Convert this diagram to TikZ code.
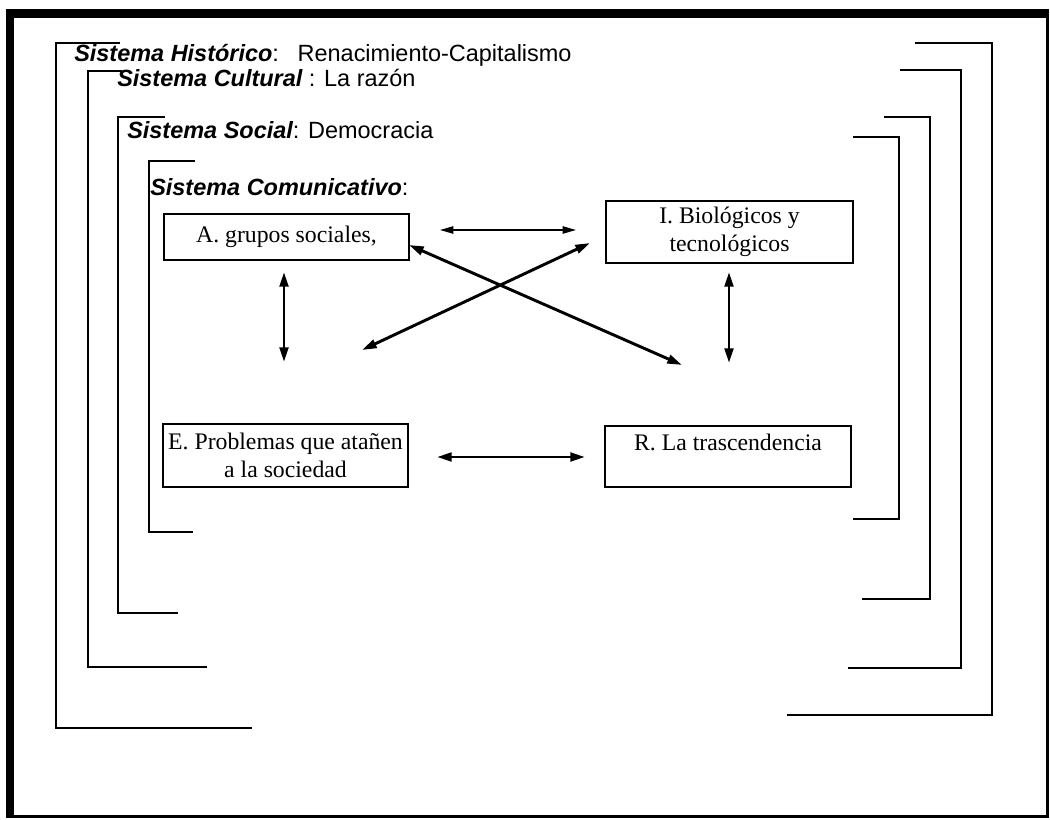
\documentclass[tikz,border=0pt]{standalone}
\usepackage{fontspec}
\setmainfont{Liberation Serif}
\setsansfont{Liberation Sans}
\usetikzlibrary{arrows.meta}
\begin{document}
\begin{tikzpicture}[x=0.75pt,y=-0.75pt,
  bracket/.style={line width=1.4pt},
  boxnode/.style={draw,line width=1.4pt,inner sep=0pt,outer sep=0pt,align=center,
    font=\rmfamily\fontsize{17.8pt}{21pt}\selectfont},
  syslabel/.style={anchor=base west,inner sep=0pt,font=\sffamily\fontsize{17.6pt}{21pt}\selectfont},
  thickarr/.style={line width=2.2pt,{Triangle[length=11pt,width=6.5pt]}-{Triangle[length=11pt,width=6.5pt]}},
  thinarr/.style={line width=1.1pt,{Triangle[length=10pt,width=5.5pt]}-{Triangle[length=10pt,width=5.5pt]}}]
\useasboundingbox (0,0) rectangle (1050,820);
% outer frame
\fill[black] (6,9) rectangle (1049,818);
\fill[white] (14,18) rectangle (1045.5,815);
% left brackets
\draw[bracket] (120,43) -- (56,43) -- (56,728) -- (252,728);
\draw[bracket] (122,71) -- (88,71) -- (88,667) -- (207,667);
\draw[bracket] (165,117) -- (118,117) -- (118,613) -- (178,613);
\draw[bracket] (195,161) -- (149,161) -- (149,532) -- (193,532);
% right brackets
\draw[bracket] (915,43) -- (992,43) -- (992,715) -- (787,715);
\draw[bracket] (900,70) -- (961,70) -- (961,668) -- (848,668);
\draw[bracket] (884,117) -- (930,117) -- (930,599) -- (862,599);
\draw[bracket] (853,137) -- (899,137) -- (899,519) -- (853,519);
% system labels
\node[syslabel] (lh) at (74,62) {{\bfseries\itshape Sistema Histórico}:\hspace{14pt}Renacimiento-Capitalismo};
\node[syslabel] (lc) at (117,87) {{\bfseries\itshape Sistema Cultural} : La razón};
\node[syslabel] (ls) at (127,139) {{\bfseries\itshape Sistema Social}: Democracia};
\node[syslabel] (lm) at (150,196) {{\bfseries\itshape Sistema Comunicativo}:};
% boxes
\node[boxnode,minimum width=183.75pt,minimum height=34.5pt] (A) at (286.5,237) {A. grupos sociales,};
\node[boxnode,minimum width=185.25pt,minimum height=46.5pt] (I) at (729.5,232) {I. Biológicos y\\tecnológicos};
\node[boxnode,minimum width=183.75pt,minimum height=47.25pt] (E) at (285.5,455.5) {E. Problemas que atañen\\a la sociedad};
\node[boxnode,minimum width=184.5pt,minimum height=45.75pt] (R) at (728,456.5) {R. La trascendencia\\\phantom{l}};
% arrow end points
\coordinate (t1) at (440,230);
\coordinate (t2) at (576,230);
\coordinate (v1a) at (284,272);
\coordinate (v1b) at (284,362);
\coordinate (v2a) at (729,272);
\coordinate (v2b) at (729,363);
\coordinate (d1a) at (409,245);
\coordinate (d1b) at (682,365);
\coordinate (d2a) at (590,243);
\coordinate (d2b) at (362,350);
\coordinate (h1) at (437,457);
\coordinate (h2) at (585,457);
% arrows
\draw[thinarr] (t1) -- (t2);
\draw[thickarr] (v1a) -- (v1b);
\draw[thickarr] (v2a) -- (v2b);
\draw[thickarr] (d1a) -- (d1b);
\draw[thickarr] (d2a) -- (d2b);
\draw[thickarr] (h1) -- (h2);
\end{tikzpicture}
\end{document}
